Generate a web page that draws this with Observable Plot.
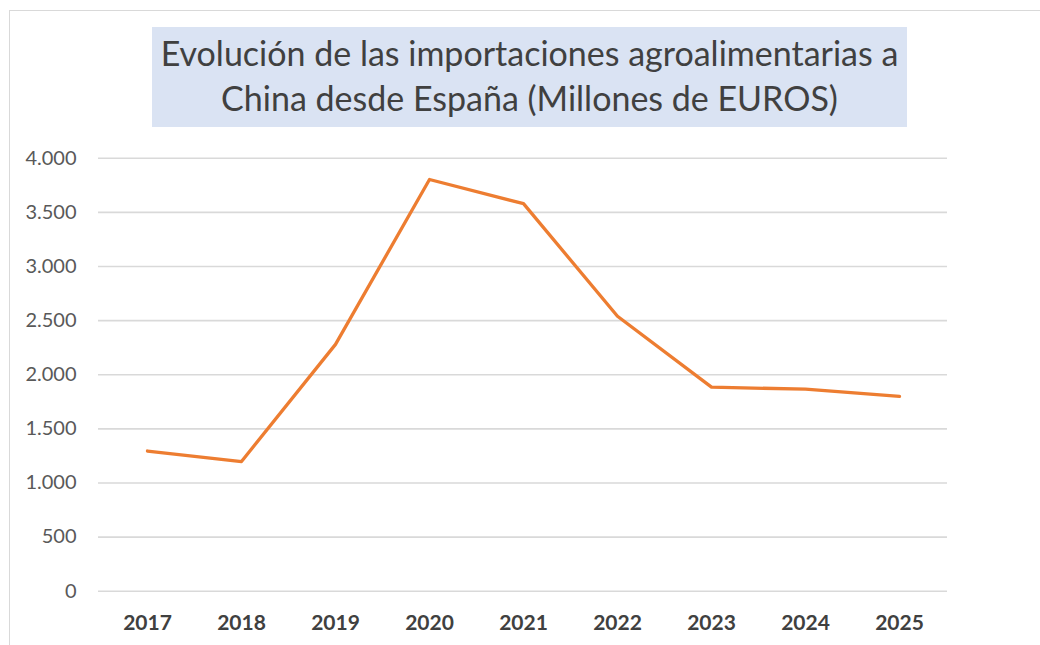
<!DOCTYPE html>
<html>
<head>
<meta charset="utf-8">
<script src="https://cdn.jsdelivr.net/npm/d3@7"></script>
<script src="https://cdn.jsdelivr.net/npm/@observablehq/plot@0.6"></script>
<style>
  html, body { margin: 0; padding: 0; background: #ffffff; width: 1040px; height: 645px; overflow: hidden; }
  #frame { position: absolute; left: 9px; top: 10px; width: 1200px; height: 800px;
           border-left: 1.5px solid #d9d9d9; border-top: 1.5px solid #d9d9d9; }
  #titlebox { position: absolute; left: 152px; top: 27px; width: 755px; height: 100px; background: #dae3f3; }
  #title { position: absolute; left: 132px; top: 31.4px; width: 795px; text-align: center;
           font-family: Lato, sans-serif; font-size: 34px; line-height: 44.3px; color: #404040; white-space: nowrap; }
  #chart { position: absolute; left: 0; top: 130px; }
</style>
</head>
<body>
<div id="frame"></div>
<div id="titlebox"></div>
<div id="title">Evolución de las importaciones agroalimentarias a<br>China desde España (Millones de EUROS)</div>
<div id="chart"></div>
<script>
const years = ["2017", "2018", "2019", "2020", "2021", "2022", "2023", "2024", "2025"];
const values = [1295, 1198, 2280, 3803, 3580, 2540, 1885, 1866, 1800];
const yTicks = [0, 500, 1000, 1500, 2000, 2500, 3000, 3500, 4000];

const data = years.map((year, i) => ({year, value: values[i]}));
const fmt = d => d3.format(",")(d).replace(/,/g, ".");

const chart = Plot.plot({
  width: 1040,
  height: 515,
  marginTop: 27.7,
  marginBottom: 54.3,
  marginLeft: 98,
  marginRight: 93,
  style: {fontFamily: "Lato, sans-serif", fontSize: "20px", color: "#595959", background: "transparent"},
  x: {type: "point", domain: years, padding: 0.5, label: null},
  y: {domain: [0, 4000], label: null},
  marks: [
    Plot.ruleY(yTicks, {stroke: "#d9d9d9", strokeWidth: 1.6}),
    Plot.axisY({ticks: yTicks, tickFormat: fmt, tickSize: 0, tickPadding: 22, fontSize: 20, fill: "#595959", label: null}),
    Plot.axisX({tickSize: 0, tickPadding: 23.4, fontSize: 21, fontWeight: "bold", fill: "#404040", label: null}),
    Plot.line(data, {x: "year", y: "value", stroke: "#ed7d31", strokeWidth: 3.3, strokeLinecap: "round", strokeLinejoin: "round"})
  ]
});
document.getElementById("chart").appendChild(chart);
</script>
</body>
</html>
